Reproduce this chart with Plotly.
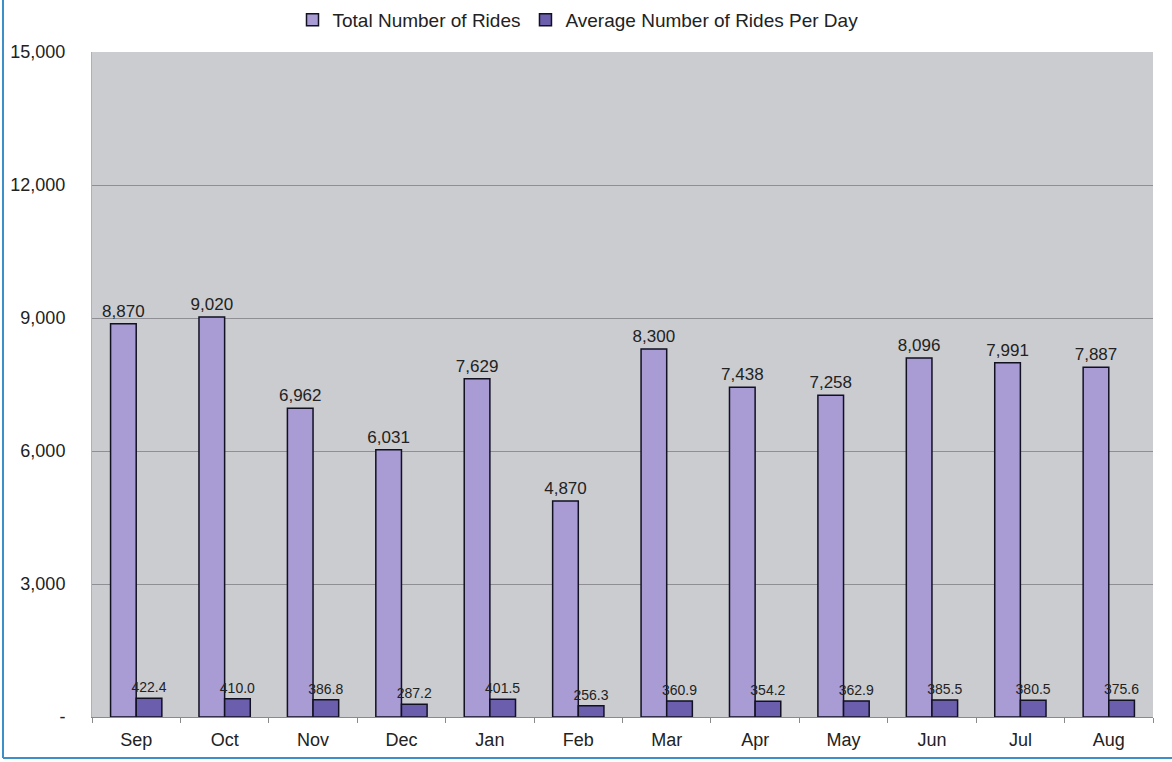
import plotly.graph_objects as go

months = ["Sep", "Oct", "Nov", "Dec", "Jan", "Feb", "Mar", "Apr", "May", "Jun", "Jul", "Aug"]
total_rides = [8870, 9020, 6962, 6031, 7629, 4870, 8300, 7438, 7258, 8096, 7991, 7887]
avg_rides_per_day = [422.4, 410.0, 386.8, 287.2, 401.5, 256.3, 360.9, 354.2, 362.9, 385.5, 380.5, 375.6]

y_tick_vals = [0, 3000, 6000, 9000, 12000, 15000]
y_tick_text = ["-", "3,000", "6,000", "9,000", "12,000", "15,000"]

font_family = "Liberation Sans, Arial, sans-serif"

fig = go.Figure()
fig.add_trace(go.Bar(
    name="Total Number of Rides",
    x=months, y=total_rides,
    marker=dict(color="#a99bd3", line=dict(color="#111122", width=1.5)),
    texttemplate="%{y:,}", textposition="outside", constraintext="none",
    textfont=dict(size=17, color="#222222", family=font_family),
    cliponaxis=False,
))
fig.add_trace(go.Bar(
    name="Average Number of Rides Per Day",
    x=months, y=avg_rides_per_day,
    marker=dict(color="#6b5eac", line=dict(color="#111122", width=1.5)),
    texttemplate="%{y:.1f}", textposition="outside", constraintext="none",
    textfont=dict(size=14, color="#222222", family=font_family),
    cliponaxis=False,
))

# frame line along the left and bottom edges of the page
px_l, px_r, px_t, px_b = 92, 1153, 52, 717
pw, ph = px_r - px_l, px_b - px_t
def to_paper_x(px):
    return (px - px_l) / pw
def to_paper_y(py):
    return (px_b - py) / ph

fig.add_shape(type="line", xref="paper", yref="paper",
              x0=to_paper_x(3), x1=to_paper_x(3), y0=to_paper_y(758), y1=to_paper_y(-5),
              line=dict(color="#3d8fc8", width=2))
fig.add_shape(type="line", xref="paper", yref="paper",
              x0=to_paper_x(3), x1=to_paper_x(1180), y0=to_paper_y(758), y1=to_paper_y(758),
              line=dict(color="#3d8fc8", width=2))

fig.update_layout(
    width=1172, height=762,
    margin=dict(l=px_l, r=1172 - px_r, t=px_t, b=762 - px_b, autoexpand=False),
    paper_bgcolor="white",
    plot_bgcolor="#cbccd0",
    barmode="group",
    bargap=0.42,
    bargroupgap=0.0,
    font=dict(family=font_family, color="#222222"),
    showlegend=True,
    legend=dict(orientation="h", x=578 / 1172, xref="container", xanchor="center",
                y=1 - 20 / 762, yref="container", yanchor="middle",
                font=dict(size=19, color="#222222"), itemwidth=30,
                bgcolor="rgba(0,0,0,0)", traceorder="normal"),
    xaxis=dict(
        showgrid=False, showline=True, linecolor="#8a8a8a", linewidth=1,
        ticks="outside", tickson="boundaries", ticklen=5, tickcolor="#8a8a8a",
        tickfont=dict(size=18, color="#222222"), ticklabelstandoff=6,
    ),
    yaxis=dict(
        range=[0, 15000], tickvals=y_tick_vals, ticktext=y_tick_text,
        showgrid=True, gridcolor="#8e8e94", gridwidth=1,
        zeroline=False, showline=True, linecolor="#b0b0b0",
        tickfont=dict(size=18, color="#222222"), ticks="", ticklabelstandoff=22,
    ),
)

fig.write_html("out.html")
